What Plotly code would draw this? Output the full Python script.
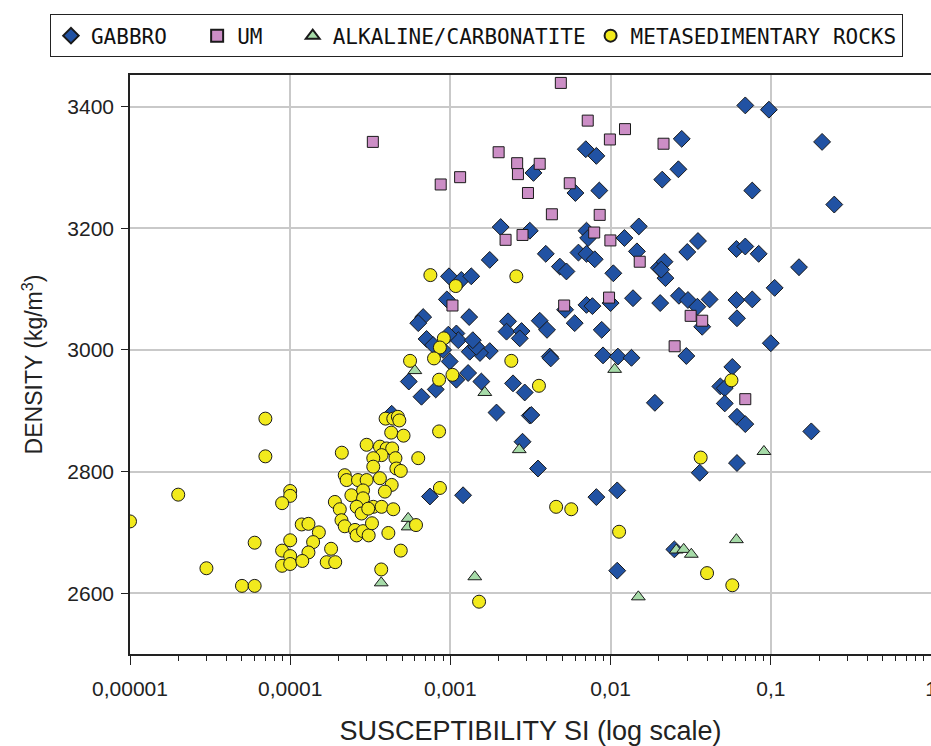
import plotly.graph_objects as go

# Magnetic susceptibility (SI) and density (kg/m3) per rock group

gabbro_sus = [7.0e-3, 8.15e-3, 3.3e-3, 2.1e-2, 6.03e-3, 8.5e-3, 2.06e-3, 3.13e-3, 7.07e-3, 7.24e-3,
              1.22e-2, 1.5e-2, 1.46e-2, 3.94e-3, 6.3e-3, 7.07e-3, 7.96e-3, 1.76e-3, 4.82e-3, 5.3e-3,
              1.04e-2, 2.0e-2, 2.17e-2, 9.8e-4, 1.17e-3, 1.35e-3, 9.5e-4, 6.76e-4, 6.3e-4, 1.31e-3,
              7.1e-4, 2.29e-3, 2.24e-3, 2.78e-3, 2.71e-3, 3.61e-3, 4.01e-3, 5.97e-3, 7.07e-3, 7.7e-3,
              8.8e-3, 1.0e-2, 1.38e-2, 2.04e-2, 2.2e-2, 5.2e-3, 4.17e-3, 8.97e-3, 1.11e-2, 1.35e-2,
              1.76e-3, 1.53e-3, 1.32e-3, 1.45e-3, 1.09e-3, 1.12e-3, 1.38e-3, 9.7e-4, 7.8e-4, 9.0e-4,
              9.9e-4, 1.29e-3, 1.09e-3, 1.56e-3, 5.5e-4, 6.6e-4, 8.1e-4, 1.94e-3, 4.3e-4, 2.46e-3,
              2.91e-3, 3.13e-3, 3.2e-3, 2.82e-3, 3.52e-3, 1.89e-2, 7.45e-4, 1.2e-3, 8.15e-3, 1.1e-2,
              1.1e-2, 4.23e-3, 6.93e-2, 9.73e-2, 0.209, 2.78e-2, 2.65e-2, 7.66e-2, 0.249, 3.51e-2,
              3.01e-2, 6.1e-2, 6.93e-2, 8.4e-2, 0.15, 0.1057, 2.07e-2, 2.67e-2, 3.04e-2, 3.48e-2,
              4.15e-2, 6.1e-2, 7.66e-2, 6.15e-2, 0.1, 3.73e-2, 2.97e-2, 5.75e-2, 4.84e-2, 5.16e-2,
              5.16e-2, 6.15e-2, 6.93e-2, 0.179, 6.15e-2, 3.6e-2, 2.5e-2]
gabbro_rho = [3330, 3319, 3291, 3280, 3258, 3262, 3202, 3196, 3196, 3184,
              3184, 3203, 3162, 3158, 3160, 3158, 3149, 3148, 3137, 3129,
              3126, 3135, 3145, 3121, 3115, 3121, 3083, 3054, 3044, 3054,
              3018, 3047, 3030, 3031, 3019, 3048, 3033, 3044, 3074, 3072,
              3033, 3077, 3085, 3077, 3118, 3066, 2989, 2991, 2989, 2987,
              2998, 2995, 2997, 3005, 3027, 3016, 3016, 3025, 3008, 3000,
              2981, 2962, 2951, 2948, 2948, 2923, 2935, 2897, 2895, 2945,
              2930, 2892, 2893, 2849, 2805, 2913, 2759, 2761, 2758, 2769,
              2637, 2986, 3402, 3395, 3342, 3347, 3297, 3262, 3239, 3179,
              3161, 3166, 3170, 3158, 3136, 3102, 3132, 3089, 3082, 3071,
              3083, 3082, 3083, 3052, 3011, 3038, 2990, 2972, 2940, 2937,
              2912, 2890, 2878, 2866, 2814, 2798, 2672]

um_sus = [3.28e-4, 4.89e-3, 7.2e-3, 9.9e-3, 1.23e-2, 2.14e-2, 2.0e-3, 2.61e-3, 3.61e-3, 2.64e-3,
          1.15e-3, 8.7e-4, 3.05e-3, 5.56e-3, 4.3e-3, 8.55e-3, 7.9e-3, 2.82e-3, 2.21e-3, 9.97e-3,
          1.52e-2, 1.03e-3, 5.13e-3, 9.78e-3, 3.16e-2, 3.73e-2, 2.51e-2, 6.93e-2]
um_rho = [3342, 3439, 3377, 3346, 3363, 3339, 3325, 3307, 3306, 3289,
          3284, 3272, 3258, 3274, 3223, 3222, 3193, 3189, 3181, 3180,
          3145, 3073, 3073, 3086, 3056, 3048, 3006, 2919]

alk_sus = [3.7e-4, 5.45e-4, 5.45e-4, 1.42e-3, 6.0e-4, 1.64e-3, 2.69e-3, 1.06e-2, 1.49e-2, 9.06e-2,
           6.1e-2, 2.57e-2, 2.86e-2, 3.19e-2]
alk_rho = [2617, 2723, 2709, 2627, 2966, 2930, 2836, 2968, 2594, 2833,
           2688, 2671, 2672, 2664]

meta_sus = [1.0e-5, 2.0e-5, 7.0e-5, 7.0e-5, 3.0e-5, 5.0e-5, 6.0e-5, 6.0e-5, 1.0e-4, 1.0e-4,
            8.9e-5, 1.18e-4, 1.30e-4, 1.51e-4, 1.0e-4, 8.9e-5, 1.0e-4, 8.9e-5, 1.0e-4, 1.39e-4,
            1.30e-4, 1.19e-4, 1.80e-4, 1.69e-4, 1.91e-4, 2.1e-4, 3.0e-4, 3.7e-4, 4.1e-4, 4.9e-4,
            3.94e-4, 4.4e-4, 4.7e-4, 4.8e-4, 4.27e-4, 5.1e-4, 8.5e-4, 3.63e-4, 4.0e-4, 4.33e-4,
            3.72e-4, 3.3e-4, 4.54e-4, 4.6e-4, 4.9e-4, 6.3e-4, 3.3e-4, 2.19e-4, 2.25e-4, 2.65e-4,
            3.0e-4, 3.63e-4, 4.3e-4, 2.41e-4, 2.85e-4, 2.85e-4, 3.3e-4, 3.72e-4, 4.4e-4, 3.9e-4,
            1.9e-4, 2.04e-4, 2.6e-4, 2.79e-4, 3.07e-4, 2.09e-4, 2.19e-4, 2.54e-4, 2.6e-4, 2.85e-4,
            3.09e-4, 3.24e-4, 6.1e-4, 8.6e-4, 1.51e-3, 7.5e-4, 1.08e-3, 9.1e-4, 8.6e-4, 7.9e-4,
            5.6e-4, 8.5e-4, 1.03e-3, 2.58e-3, 2.4e-3, 3.57e-3, 4.57e-3, 5.68e-3, 1.13e-2, 5.68e-2,
            3.65e-2, 4.0e-2, 5.75e-2]
meta_rho = [2718, 2762, 2887, 2825, 2641, 2612, 2612, 2683, 2768, 2760,
            2748, 2713, 2714, 2700, 2687, 2670, 2661, 2645, 2648, 2684,
            2667, 2653, 2673, 2651, 2651, 2831, 2844, 2639, 2699, 2670,
            2887, 2887, 2890, 2884, 2864, 2859, 2866, 2841, 2838, 2838,
            2827, 2822, 2822, 2805, 2801, 2822, 2808, 2794, 2786, 2786,
            2786, 2789, 2778, 2761, 2769, 2756, 2742, 2742, 2738, 2767,
            2750, 2738, 2742, 2731, 2739, 2720, 2710, 2704, 2695, 2702,
            2695, 2715, 2712, 2773, 2586, 3123, 3105, 3019, 3004, 2986,
            2982, 2951, 2959, 3121, 2982, 2941, 2742, 2738, 2701, 2950,
            2823, 2633, 2613]

x_tick_vals = [1e-5, 1e-4, 1e-3, 1e-2, 1e-1, 1]
x_tick_text = ["0,00001", "0,0001", "0,001", "0,01", "0,1", "1"]
y_tick_vals = [2600, 2800, 3000, 3200, 3400]

# legend entries, padded with non-breaking spaces to spread the row
pad = "\u00a0\u00a0"
edge = dict(color="#1a1a1a", width=1)
series = [
    ("GABBRO" + pad, gabbro_sus, gabbro_rho, "diamond", "#2152a3", 13),
    ("UM" + pad, um_sus, um_rho, "square", "#cc8ec6", 11),
    ("ALKALINE/CARBONATITE", alk_sus, alk_rho, "triangle-up", "#a6dba8", 12),
    ("METASEDIMENTARY ROCKS", meta_sus, meta_rho, "circle", "#f2ea1d", 13),
]

fig = go.Figure()
for name, xs, ys, sym, col, size in series:
    fig.add_trace(go.Scatter(
        x=xs, y=ys, mode="markers", name=name,
        marker=dict(symbol=sym, color=col, size=size, line=edge),
    ))

minor_vals = [m * 10.0 ** d for d in range(-5, 0) for m in range(2, 10)]

tick_font = dict(family="Liberation Sans, Arial, sans-serif", size=21, color="#222222")
ytitle_font = dict(family="Liberation Sans, Arial, sans-serif", size=23, color="#222222")
xtitle_font = dict(family="Liberation Sans, Arial, sans-serif", size=27, color="#222222")

fig.update_layout(
    width=931, height=746,
    margin=dict(l=130, r=0, t=75, b=92, autoexpand=False),
    paper_bgcolor="white", plot_bgcolor="white",
    showlegend=True,
    legend=dict(
        orientation="h", x=-0.0999, xanchor="left", y=1.1045, yanchor="top",
        bordercolor="#222222", borderwidth=1, bgcolor="white",
        itemsizing="constant",
        font=dict(family="DejaVu Sans Mono, monospace", size=21, color="#111111"),
    ),
    xaxis=dict(
        type="log", range=[-5, 0], automargin=False,
        tickvals=x_tick_vals, ticktext=x_tick_text, ticklabeloverflow="allow",
        showgrid=True, gridcolor="#c9c9c9", gridwidth=1.5,
        showline=True, linecolor="#222222", linewidth=1.5, mirror=True,
        ticks="outside", ticklen=9, tickcolor="#222222", tickwidth=1,
        ticklabelstandoff=6,
        minor=dict(tickvals=minor_vals, ticks="outside", ticklen=5,
                   tickcolor="#222222", showgrid=False),
        tickfont=tick_font,
        title=dict(text="SUSCEPTIBILITY SI (log scale)", font=xtitle_font, standoff=24),
        zeroline=False,
    ),
    yaxis=dict(
        range=[2500, 3452], automargin=False,
        tickvals=y_tick_vals,
        showgrid=True, gridcolor="#c9c9c9", gridwidth=1.5,
        showline=True, linecolor="#222222", linewidth=1.5, mirror=True,
        ticks="outside", ticklen=7, tickcolor="#222222",
        ticklabelstandoff=3,
        tickfont=tick_font,
        title=dict(text="DENSITY (kg/m<sup>3</sup>)", font=ytitle_font, standoff=18),
        zeroline=False,
    ),
)

fig.write_html("out.html")
